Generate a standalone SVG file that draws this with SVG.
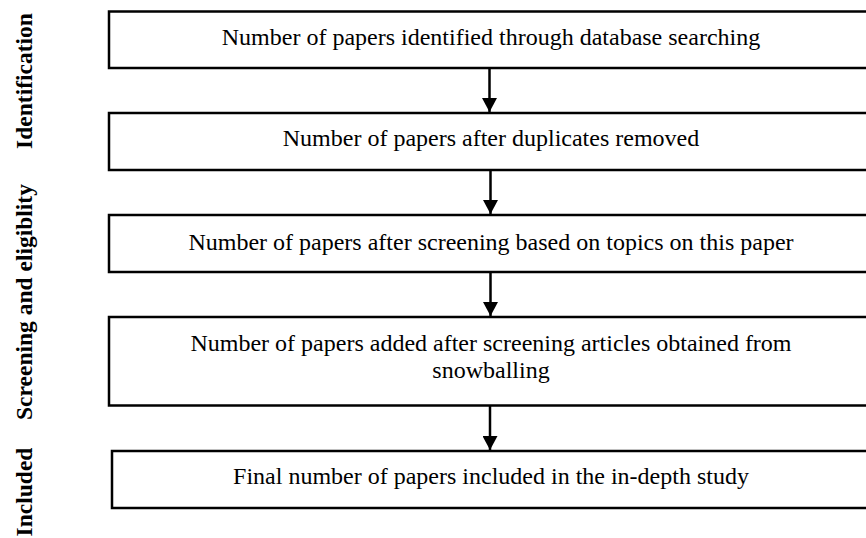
<svg xmlns="http://www.w3.org/2000/svg" width="866" height="538" viewBox="0 0 866 538">
<defs>
<style>
.box{fill:#fff;stroke:#000;stroke-width:2.5}
.t{font-family:"Liberation Serif","Times New Roman",serif;font-size:24px;fill:#000;text-anchor:middle}
.lab{font-family:"Liberation Serif","Times New Roman",serif;font-size:23.5px;font-weight:bold;fill:#000;text-anchor:middle}
.ln{stroke:#000;stroke-width:2.5;fill:none}
</style>
<marker id="ah" markerWidth="14" markerHeight="15" refX="14" refY="7.5" orient="auto" markerUnits="userSpaceOnUse">
<path d="M0,0 L14,7.5 L0,15 Z" fill="#000"/>
</marker>
</defs>
<rect width="866" height="538" fill="#fff"/>
<g id="labels">
<text class="lab" transform="translate(32,81) rotate(-90)">Identification</text>
<text class="lab" transform="translate(32,302) rotate(-90)">Screening and eligiblity</text>
<text class="lab" transform="translate(32,492) rotate(-90)">Included</text>
</g>
<g id="n1"><rect class="box" x="109" y="11.5" width="762" height="56.5"/><text class="t" x="491" y="45">Number of papers identified through database searching</text></g>
<g id="n2"><rect class="box" x="109" y="113" width="762" height="57"/><text class="t" x="491" y="146">Number of papers after duplicates removed</text></g>
<g id="n3"><rect class="box" x="109" y="215" width="762" height="57"/><text class="t" x="491" y="250">Number of papers after screening based on topics on this paper</text></g>
<g id="n4"><rect class="box" x="109" y="317" width="762" height="88.5"/><text class="t" x="491" y="351">Number of papers added after screening articles obtained from</text><text class="t" x="491" y="378">snowballing</text></g>
<g id="n5"><rect class="box" x="112" y="451" width="759" height="57"/><text class="t" x="491" y="484">Final number of papers included in the in-depth study</text></g>
<g id="connectors">
<line class="ln" x1="489.5" y1="68" x2="489.5" y2="112" marker-end="url(#ah)"/>
<line class="ln" x1="490.5" y1="170" x2="490.5" y2="214" marker-end="url(#ah)"/>
<line class="ln" x1="490.5" y1="272" x2="490.5" y2="316" marker-end="url(#ah)"/>
<line class="ln" x1="490" y1="405.5" x2="490" y2="450" marker-end="url(#ah)"/>
</g>
</svg>
